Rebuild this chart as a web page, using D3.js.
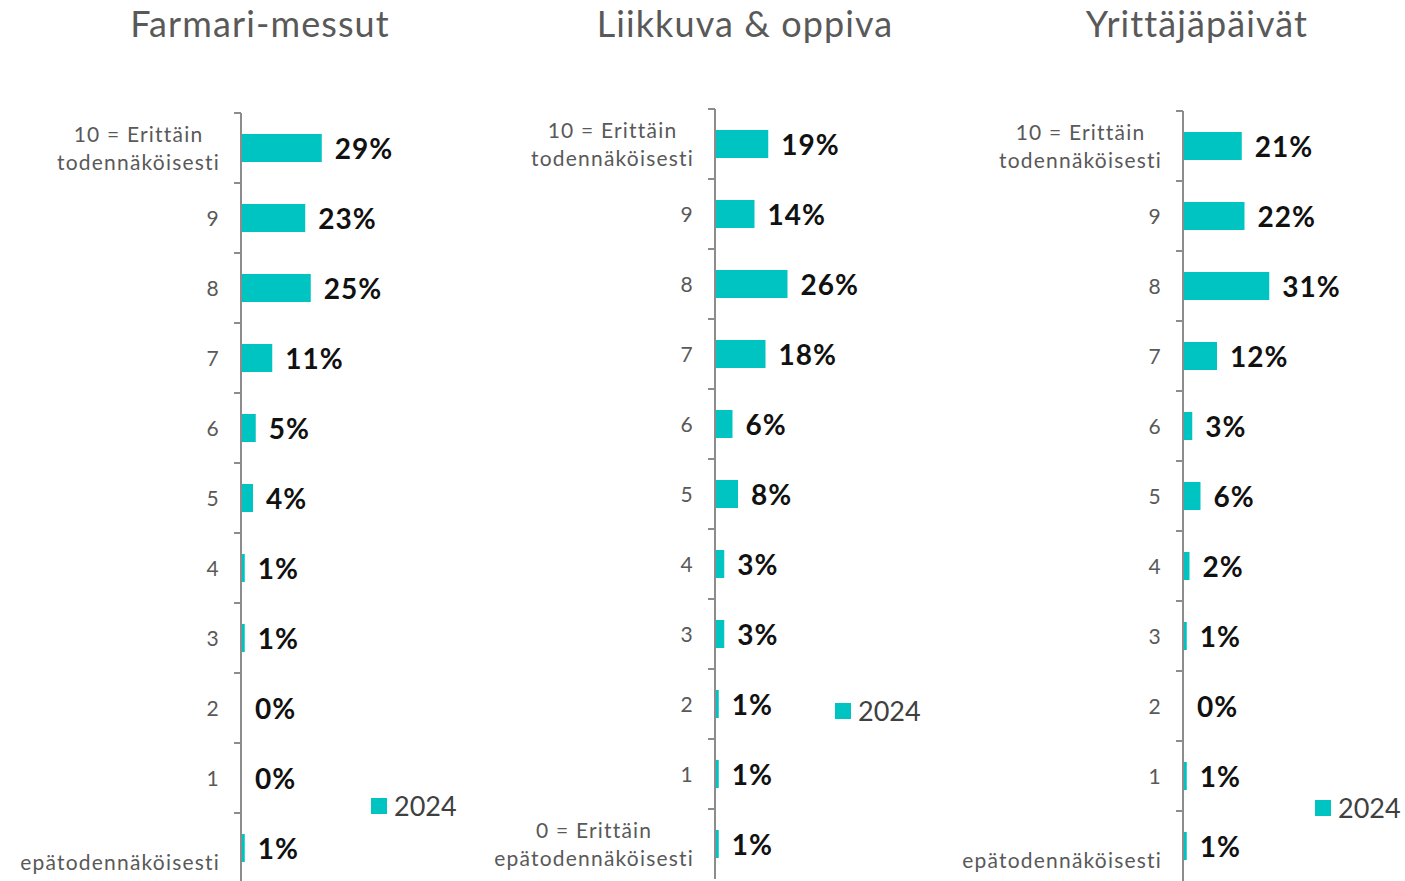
<!DOCTYPE html>
<html>
<head>
<meta charset="utf-8">
<script src="https://cdn.jsdelivr.net/npm/d3@7"></script>
<style>
  body { margin: 0; background: #fff; }
  svg { display: block; font-family: Lato, "Noto Sans", sans-serif; }
</style>
</head>
<body>
<div id="chart"></div>
<script>
// scale 10 ... 0
var categories = ["10", "9", "8", "7", "6", "5", "4", "3", "2", "1", "0"];

var tickLabelsFull = [["10 = Erittäin", "todennäköisesti"], ["9"], ["8"], ["7"], ["6"], ["5"],
	["4"], ["3"], ["2"], ["1"], ["0 = Erittäin", "epätodennäköisesti"]];
var tickLabelsCut = [["10 = Erittäin", "todennäköisesti"], ["9"], ["8"], ["7"], ["6"], ["5"],
	["4"], ["3"], ["2"], ["1"], ["", "epätodennäköisesti"]];

var titles = ["Farmari-messut", "Liikkuva & oppiva", "Yrittäjäpäivät"];
var seriesName = "2024";

var farmariValues = [29, 23, 25, 11, 5, 4, 1, 1, 0, 0, 1];
var liikkuvaValues = [19, 14, 26, 18, 6, 8, 3, 3, 1, 1, 1];
var yrittajaValues = [21, 22, 31, 12, 3, 6, 2, 1, 0, 1, 1];

var W = 1405, H = 881;
var BAR_COLOR = "#00c4c2";

// layout of the three small charts
var panels = [
	{ title: titles[0], values: farmariValues, labels: tickLabelsCut, axisX: 241, top: 113, titleX: 260, legX: 371, legY: 798 },
	{ title: titles[1], values: liikkuvaValues, labels: tickLabelsFull, axisX: 715, top: 109, titleX: 745, legX: 835, legY: 703 },
	{ title: titles[2], values: yrittajaValues, labels: tickLabelsCut, axisX: 1183, top: 111, titleX: 1197, legX: 1315, legY: 800 }
];

var svg = d3.select("#chart").append("svg")
	.attr("width", W)
	.attr("height", H);

svg.append("rect").attr("width", W).attr("height", H).attr("fill", "#fff");

var x = d3.scaleLinear().domain([0, 100]).range([0, 275]);

panels.forEach(function(p) {
	var y = d3.scaleBand()
		.domain(categories)
		.range([p.top, p.top + 770])
		.paddingInner(0.6)
		.paddingOuter(0.3);
	var step = y.step();
	var gap = (step - y.bandwidth()) / 2;

	var g = svg.append("g");

	// title
	g.append("text")
		.attr("x", p.titleX)
		.attr("y", 37)
		.attr("text-anchor", "middle")
		.attr("fill", "#595959")
		.style("font-size", "36px")
		.style("letter-spacing", "1.1px")
		.text(p.title);

	var rows = categories.map(function(c, i) { return { cat: c, value: p.values[i], label: p.labels[i] }; });

	// bars
	g.selectAll(".bar")
		.data(rows)
		.enter().append("rect")
		.attr("class", "bar")
		.attr("x", p.axisX + 1)
		.attr("y", d => y(d.cat))
		.attr("width", d => x(d.value))
		.attr("height", y.bandwidth())
		.attr("fill", BAR_COLOR);

	// value labels
	g.selectAll(".val")
		.data(rows)
		.enter().append("text")
		.attr("class", "val")
		.attr("x", d => p.axisX + x(d.value) + 14)
		.attr("y", d => y(d.cat) + y.bandwidth() / 2)
		.attr("dy", "0.38em")
		.attr("fill", "#111")
		.style("font-size", "28px")
		.style("font-weight", "700")
		.style("letter-spacing", "1px")
		.text(d => d.value + "%");

	// axis line + tick marks at category boundaries
	var axis = g.append("g").attr("transform", "translate(" + p.axisX + ",0)");
	axis.append("line")
		.attr("y1", y.range()[0])
		.attr("y2", y.range()[1])
		.attr("stroke", "#8c8c8c")
		.attr("stroke-width", 2);
	axis.selectAll(".tk")
		.data(categories)
		.enter().append("line")
		.attr("class", "tk")
		.attr("x1", -7)
		.attr("x2", 0)
		.attr("y1", d => y(d) - gap)
		.attr("y2", d => y(d) - gap)
		.attr("stroke", "#8c8c8c")
		.attr("stroke-width", 2);

	// category labels; two-line labels are centred on each other
	var lab = axis.selectAll(".lab")
		.data(rows)
		.enter().append("text")
		.attr("class", "lab")
		.attr("text-anchor", "end")
		.attr("fill", "#595959")
		.style("font-size", "21px")
		.style("letter-spacing", "1.2px");
	lab.each(function(d) {
		var t = d3.select(this);
		var cy = y(d.cat) + y.bandwidth() / 2;
		var n = d.label.length;
		var spans = d.label.map(function(line, k) {
			return t.append("tspan")
				.attr("x", -21)
				.attr("y", cy + (k - (n - 1) / 2) * 28)
				.attr("dy", "0.36em")
				.text(line);
		});
		if (n > 1) {
			var maxW = d3.max(spans, s => s.node().getComputedTextLength());
			t.attr("text-anchor", "middle");
			spans.forEach(s => s.attr("x", -21 - maxW / 2));
		}
	});

	// legend
	var leg = g.append("g").attr("transform", "translate(" + p.legX + "," + p.legY + ")");
	leg.append("rect")
		.attr("width", 16)
		.attr("height", 16)
		.attr("fill", BAR_COLOR);
	leg.append("text")
		.attr("x", 23)
		.attr("y", 8)
		.attr("dy", "0.36em")
		.attr("fill", "#404040")
		.style("font-size", "27px")
		.text(seriesName);
});
</script>
</body>
</html>
